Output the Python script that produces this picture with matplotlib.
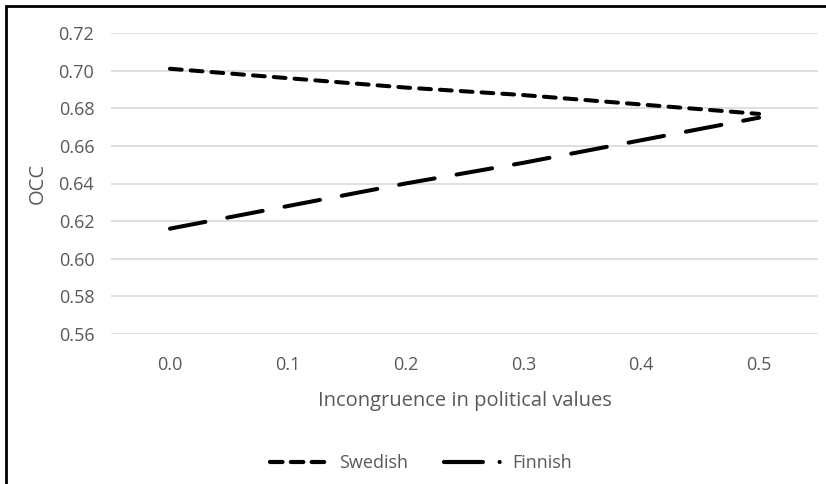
import matplotlib.pyplot as plt
from matplotlib.lines import Line2D
from matplotlib.patches import Rectangle

# ===============================
# DATA
# ===============================
categories = ["0.0", "0.1", "0.2", "0.3", "0.4", "0.5"]
swedish = [0.701, 0.696, 0.691, 0.687, 0.682, 0.677]
finnish = [0.616, 0.628, 0.640, 0.651, 0.663, 0.675]
y_ticks = [0.56, 0.58, 0.60, 0.62, 0.64, 0.66, 0.68, 0.70, 0.72]

GREY = "#595959"
plt.rcParams['font.family'] = ['Open Sans', 'DejaVu Sans']
plt.rcParams['lines.scale_dashes'] = False

# ===============================
# PLOT
# ===============================
fig = plt.figure(figsize=(8.26, 4.84), dpi=100)
ax = fig.add_axes([111 / 826, 1 - 334 / 484, 707 / 826, 301 / 484])

x = list(range(len(categories)))
ax.plot(x, swedish, color="black", lw=2.9, dashes=(8.5, 6.5),
        dash_capstyle="round", label="Swedish")
ax.plot(x, finnish, color="black", lw=2.9, dashes=(26, 16),
        dash_capstyle="round", label="Finnish")

ax.set_xlim(-0.5, len(categories) - 0.5)
ax.set_ylim(0.56, 0.72)
ax.set_yticks(y_ticks)
ax.set_yticklabels([f"{v:.2f}" for v in y_ticks])
ax.set_xticks(x)
ax.set_xticklabels(categories)
ax.grid(axis="y", color="#d9d9d9", lw=1.2)
ax.set_axisbelow(True)
for s in ax.spines.values():
    s.set_visible(False)
ax.tick_params(length=0, labelsize=13, colors=GREY, pad=12)
ax.tick_params(axis="x", pad=16)
ax.set_xlabel("Incongruence in political values", fontsize=14.5, color=GREY, labelpad=12)
ax.set_ylabel("OCC", fontsize=14.5, color=GREY, labelpad=8)

# legend handles drawn like the Excel line styles
handles = [
    Line2D([], [], color="black", lw=3.0, dashes=(9, 6), dash_capstyle="round"),
    Line2D([], [], color="black", lw=3.0, dashes=(28, 12, 0.1, 40), dash_capstyle="round"),
]
fig.legend(handles, ["Swedish", "Finnish"], loc="center", bbox_to_anchor=(0.51, 1 - 463 / 484),
           ncol=2, frameon=False, fontsize=13, labelcolor=GREY, handlelength=3.3,
           columnspacing=2.0, handletextpad=0.5)

# outer frame
fig.patches.append(Rectangle((6 / 826, -0.1), 1.2, 1.1 - 6 / 484,
                             transform=fig.transFigure, fill=False, ec="black", lw=2))

plt.savefig("out.png", dpi=100)
